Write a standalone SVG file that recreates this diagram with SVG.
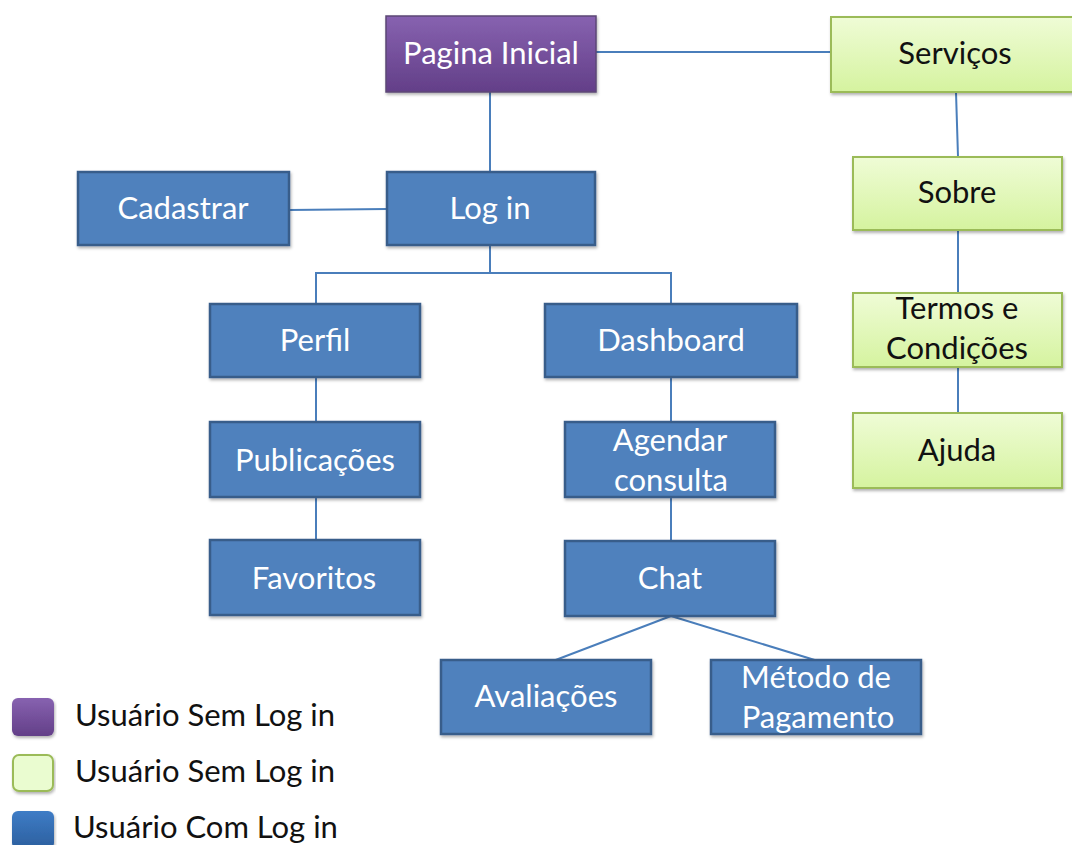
<svg xmlns="http://www.w3.org/2000/svg" width="1072" height="845" viewBox="0 0 1072 845">
<defs>
<linearGradient id="gP" x1="0" y1="0" x2="0" y2="1"><stop offset="0" stop-color="#8762b0"/><stop offset="1" stop-color="#633f88"/></linearGradient>
<linearGradient id="gG" x1="0" y1="0" x2="0" y2="1"><stop offset="0" stop-color="#effcd6"/><stop offset="1" stop-color="#d5f39f"/></linearGradient>
<linearGradient id="gB" x1="0" y1="0" x2="0" y2="1"><stop offset="0" stop-color="#3e7cc6"/><stop offset="1" stop-color="#2c5f9e"/></linearGradient>
<filter id="sh" x="-5%" y="-5%" width="112%" height="120%"><feDropShadow dx="1" dy="2" stdDeviation="1.5" flood-color="#000" flood-opacity="0.3"/></filter>
</defs>
<style>
.b{fill:#4f81bd;stroke:#385d8a;stroke-width:2.5;filter:url(#sh)}
.g{fill:url(#gG);stroke:#9bbb59;stroke-width:2;filter:url(#sh)}
.p{fill:url(#gP);stroke:#5c4776;stroke-width:1.5;filter:url(#sh)}
.tw{font-family:"Lato","Liberation Sans",sans-serif;font-size:31px;fill:#fff;text-anchor:middle}
.tk{font-family:"Lato","Liberation Sans",sans-serif;font-size:31px;fill:#111;text-anchor:middle}
.tl{font-family:"Lato","Liberation Sans",sans-serif;font-size:31px;fill:#111}
.c{stroke:#4a7ebb;stroke-width:2;fill:none}
</style>
<rect width="1072" height="845" fill="#fff"/>
<g id="connectors">
<line class="c" x1="596" y1="52" x2="831" y2="52"/>
<line class="c" x1="490" y1="92" x2="490" y2="172"/>
<line class="c" x1="289" y1="210" x2="387" y2="209"/>
<polyline class="c" points="490,245 490,273"/>
<polyline class="c" points="316,304 316,273 671,273 671,304"/>
<line class="c" x1="316" y1="377" x2="316" y2="422"/>
<line class="c" x1="316" y1="497" x2="316" y2="540"/>
<line class="c" x1="671" y1="377" x2="671" y2="422"/>
<line class="c" x1="671" y1="497" x2="671" y2="541"/>
<line class="c" x1="671" y1="616" x2="553" y2="661"/>
<line class="c" x1="671" y1="616" x2="818" y2="661"/>
<line class="c" x1="956" y1="92" x2="958" y2="157"/>
<line class="c" x1="958" y1="230" x2="958" y2="293"/>
<line class="c" x1="958" y1="367" x2="958" y2="413"/>
</g>
<g id="pagina-inicial"><rect class="p" x="386" y="16" width="210" height="76"/><text class="tw" x="491" y="64">Pagina Inicial</text></g>
<g id="servicos"><rect class="g" x="831" y="17" width="250" height="75"/><text class="tk" x="955" y="64">Serviços</text></g>
<g id="cadastrar"><rect class="b" x="78" y="172" width="211" height="73"/><text class="tw" x="183" y="219">Cadastrar</text></g>
<g id="login"><rect class="b" x="387" y="172" width="208" height="73"/><text class="tw" x="490" y="219">Log in</text></g>
<g id="perfil"><rect class="b" x="210" y="304" width="210" height="73"/><text class="tw" x="315" y="351">Perfil</text></g>
<g id="dashboard"><rect class="b" x="545" y="304" width="252" height="73"/><text class="tw" x="671" y="351">Dashboard</text></g>
<g id="publicacoes"><rect class="b" x="210" y="422" width="210" height="75"/><text class="tw" x="315" y="471">Publicações</text></g>
<g id="favoritos"><rect class="b" x="210" y="540" width="210" height="75"/><text class="tw" x="314" y="589">Favoritos</text></g>
<g id="agendar"><rect class="b" x="565" y="422" width="210" height="75"/><text class="tw" x="670" y="451">Agendar</text><text class="tw" x="671" y="491">consulta</text></g>
<g id="chat"><rect class="b" x="565" y="541" width="210" height="75"/><text class="tw" x="670" y="589">Chat</text></g>
<g id="avaliacoes"><rect class="b" x="441" y="660" width="210" height="74"/><text class="tw" x="546" y="707">Avaliações</text></g>
<g id="metodo"><rect class="b" x="711" y="660" width="210" height="74"/><text class="tw" x="816" y="688">Método de</text><text class="tw" x="818" y="728">Pagamento</text></g>
<g id="sobre"><rect class="g" x="853" y="157" width="209" height="73"/><text class="tk" x="957" y="203">Sobre</text></g>
<g id="termos"><rect class="g" x="853" y="293" width="209" height="74"/><text class="tk" x="957" y="319">Termos e</text><text class="tk" x="957" y="359">Condições</text></g>
<g id="ajuda"><rect class="g" x="853" y="413" width="209" height="75"/><text class="tk" x="957" y="461">Ajuda</text></g>
<g id="legend">
<rect x="12" y="698" width="42" height="38" rx="6" fill="url(#gP)" filter="url(#sh)"/>
<rect x="13" y="755" width="40" height="36" rx="6" fill="#eafcd0" stroke="#9bbb59" stroke-width="2" filter="url(#sh)"/>
<rect x="12" y="811" width="42" height="38" rx="6" fill="url(#gB)" filter="url(#sh)"/>
<text class="tl" x="75" y="726">Usuário Sem Log in</text>
<text class="tl" x="75" y="782">Usuário Sem Log in</text>
<text class="tl" x="73" y="838">Usuário Com Log in</text>
</g>
</svg>
